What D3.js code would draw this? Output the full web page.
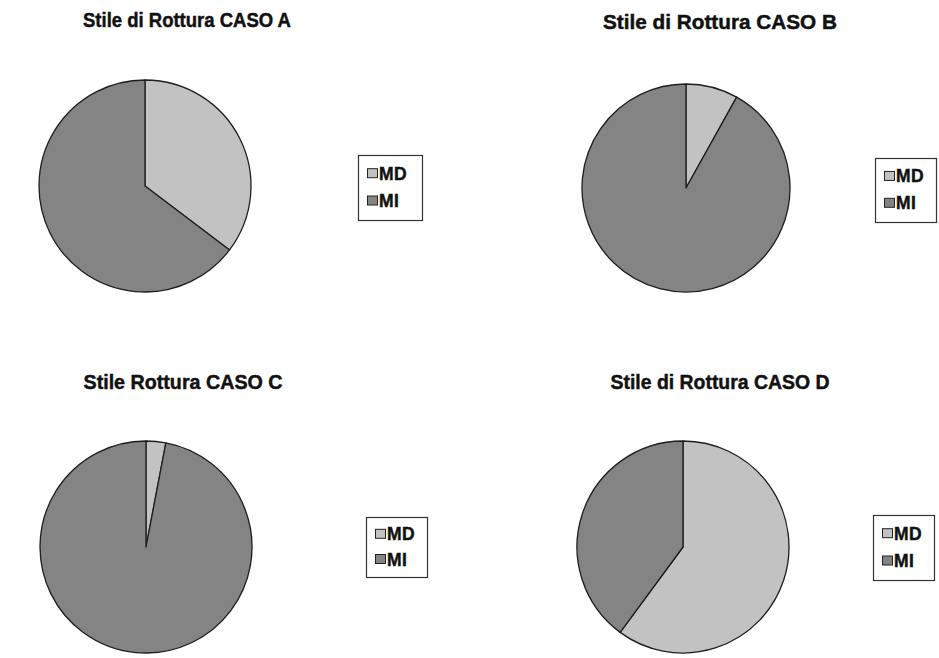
<!DOCTYPE html>
<html>
<head>
<meta charset="utf-8">
<script src="https://cdn.jsdelivr.net/npm/d3@7"></script>
<style>
  html, body { margin: 0; padding: 0; background: #fff; }
  svg { display: block; }
  text { font-family: "Liberation Sans", Arial, sans-serif; font-weight: bold; fill: #111; stroke: #111; stroke-width: 0.45px; }
</style>
</head>
<body>
<svg id="chart" width="939" height="658"></svg>
<script>
// Failure-mode shares (percent) for each case
const categories = ["MD", "MI"];
const titles = [
  "Stile di Rottura CASO A",
  "Stile di Rottura CASO B",
  "Stile Rottura CASO C",
  "Stile di Rottura CASO D"
];
const mdValues = [35.3, 8.1, 3.0, 60.1];
const miValues = [64.7, 91.9, 97.0, 39.9];

// Panel layout: pie centre/radius, title anchor and width, legend box
const panels = [
  { cx: 145, cy: 186, r: 106, tx: 187, ty: 27, tw: 208, lx: 358, ly: 155, lw: 64, lh: 65 },
  { cx: 686, cy: 188, r: 104, tx: 720, ty: 29, tw: 234, lx: 875, ly: 158, lw: 61, lh: 64 },
  { cx: 146, cy: 547, r: 106, tx: 183, ty: 389, tw: 199, lx: 366, ly: 517, lw: 61, lh: 60 },
  { cx: 683, cy: 547, r: 106, tx: 720, ty: 389, tw: 219, lx: 873, ly: 515, lw: 61, lh: 65 }
];

const color = d3.scaleOrdinal().domain(categories).range(["#c2c2c2", "#848484"]);

const svg = d3.select("#chart");

const pie = d3.pie()
  .sort(null)
  .value(d => d.value);

titles.forEach((title, i) => {
  const p = panels[i];
  const data = [
    { key: categories[0], value: mdValues[i] },
    { key: categories[1], value: miValues[i] }
  ];
  const g = svg.append("g");

  // Title
  g.append("text")
    .attr("x", p.tx)
    .attr("y", p.ty)
    .attr("text-anchor", "middle")
    .attr("textLength", p.tw)
    .attr("lengthAdjust", "spacingAndGlyphs")
    .style("font-size", "19.5px")
    .text(title);

  // Pie
  const arc = d3.arc().innerRadius(0).outerRadius(p.r);
  g.append("g")
    .attr("transform", `translate(${p.cx},${p.cy})`)
    .selectAll("path")
    .data(pie(data))
    .join("path")
    .attr("d", arc)
    .attr("fill", d => color(d.data.key))
    .attr("stroke", "#1e1e1e")
    .attr("stroke-width", 1.3)
    .attr("stroke-linejoin", "round");

  // Legend
  const lg = g.append("g").attr("transform", `translate(${p.lx},${p.ly})`);
  lg.append("rect")
    .attr("x", 0.5).attr("y", 0.5)
    .attr("width", p.lw).attr("height", p.lh)
    .attr("fill", "#fff")
    .attr("stroke", "#333")
    .attr("stroke-width", 1.2);

  const rowGap = p.lh * 0.42;
  const row0 = p.lh * 0.28;
  categories.forEach((c, k) => {
    const y = row0 + k * rowGap;
    lg.append("rect")
      .attr("x", 9.5).attr("y", y - 4.5)
      .attr("width", 10).attr("height", 9)
      .attr("fill", color(c))
      .attr("stroke", "#222")
      .attr("stroke-width", 1);
    lg.append("text")
      .attr("x", 21)
      .attr("y", y + 6.5)
      .style("font-size", "17.5px")
      .style("letter-spacing", "0.5px")
      .text(c);
  });
});
</script>
</body>
</html>
